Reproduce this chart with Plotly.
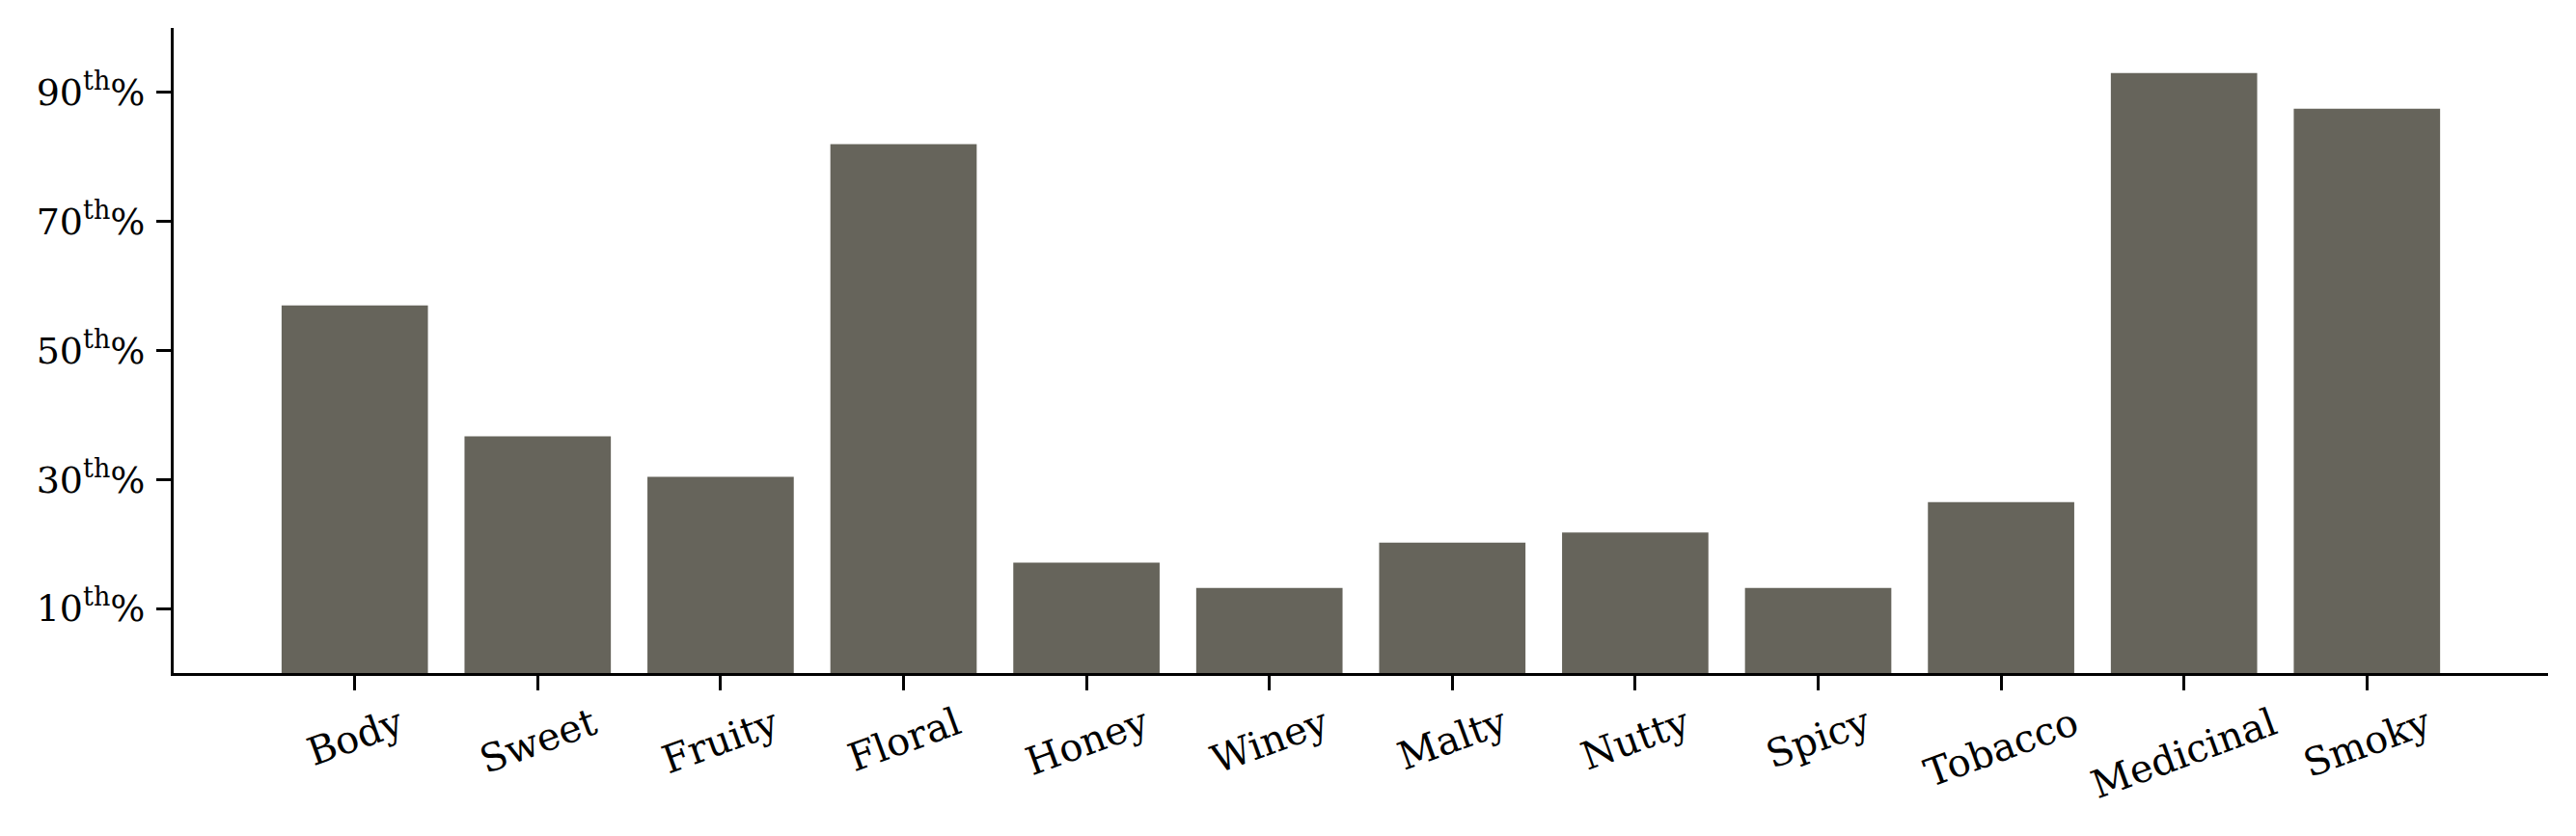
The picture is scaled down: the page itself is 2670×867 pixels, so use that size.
import plotly.graph_objects as go

# flavour profile, percentile of each feature
flavours = ["Body", "Sweet", "Fruity", "Floral", "Honey", "Winey",
            "Malty", "Nutty", "Spicy", "Tobacco", "Medicinal", "Smoky"]
percentiles = [57.0, 36.7, 30.4, 82.0, 17.1, 13.2, 20.2, 21.8, 13.2, 26.5, 93.0, 87.5]

ytick_vals = [10, 30, 50, 70, 90]
ytick_text = [f"{v}<sup><span style='font-size:27px'>th</span></sup>%" for v in ytick_vals]

bar_color = "#66645b"
font_family = "DejaVu Serif"

fig = go.Figure()
fig.add_trace(go.Bar(x=flavours, y=percentiles, width=0.8,
                     marker=dict(color=bar_color, line=dict(width=0)),
                     showlegend=False))

# rotated category labels, centred under each tick like matplotlib rotation=20
for name in flavours:
    fig.add_annotation(x=name, y=0, xref="x", yref="y", text=name,
                       showarrow=False, textangle=-20,
                       xanchor="center", yanchor="top", yshift=-24,
                       font=dict(family=font_family, size=40, color="black"))

# page body has an 8px margin, so the figure is a bit smaller than the window
fig.update_layout(
    width=2654, height=851,
    margin=dict(l=172, r=21, t=21, b=161),
    plot_bgcolor="white", paper_bgcolor="white",
    font=dict(family=font_family, size=38, color="black"),
    bargap=0.2,
)

fig.update_xaxes(type="category", range=[-0.99, 11.99],
                 showline=True, linecolor="black", linewidth=3,
                 ticks="outside", ticklen=15, tickwidth=3, tickcolor="black",
                 showticklabels=False, showgrid=False, zeroline=False)

fig.update_yaxes(range=[0, 100], tickvals=ytick_vals, ticktext=ytick_text,
                 showline=True, linecolor="black", linewidth=3,
                 ticks="outside", ticklen=15, tickwidth=3, tickcolor="black",
                 ticklabelstandoff=4,
                 showgrid=False, zeroline=False)

fig.write_html("out.html")
